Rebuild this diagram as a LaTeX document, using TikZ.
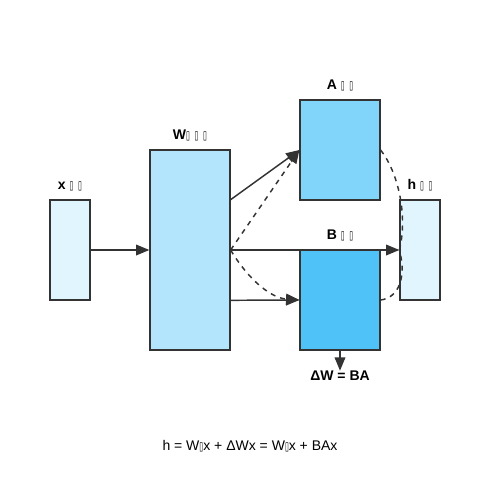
\documentclass[tikz,border=0pt]{standalone}
\usepackage{fontspec}
\setmainfont{Liberation Sans}
\newfontfamily\tofufont{DejaVu Sans}
\usepackage{tikz}
\usetikzlibrary{arrows.meta,positioning,calc}
\usepackage{xcolor}
\definecolor{linegray}{HTML}{333333}
\definecolor{incol}{HTML}{E1F5FE}
\definecolor{wcol}{HTML}{B3E5FC}
\definecolor{acol}{HTML}{81D4FA}
\definecolor{bcol}{HTML}{4FC3F7}
\newcommand{\tf}{\scalebox{0.5}[0.85]{\tofufont\char"25AF}}

\begin{document}
\begin{tikzpicture}[x=0.75pt, y=-0.75pt,
  box/.style={draw=linegray, line width=0.9pt, inner sep=0pt},
  lbl/.style={font=\fontsize{10.5}{12}\selectfont\bfseries, inner sep=0pt, anchor=base},
  arr/.style={draw=linegray, line width=1.1pt, -{Triangle[length=10pt,width=8pt]}},
  dsh/.style={draw=linegray, line width=1.1pt, dash pattern=on 3.75pt off 3.75pt}]
\useasboundingbox (0,0) rectangle (500,500);

% boxes
\node[box, fill=incol, minimum width=30pt, minimum height=75pt] (xin) at (70,250) {};
\node[box, fill=wcol, minimum width=60pt, minimum height=150pt] (W) at (190,250) {};
\node[box, fill=acol, minimum width=60pt, minimum height=75pt] (A) at (340,150) {};
\node[box, fill=bcol, minimum width=60pt, minimum height=75pt] (B) at (340,300) {};
\node[box, fill=incol, minimum width=30pt, minimum height=75pt] (hout) at (420,250) {};

% labels
\node[above=7.5pt of xin, lbl] (xin_lbl) {x \tf\hspace{3.5pt}\tf};
\node[above=7.5pt of W, lbl] (W_lbl) {W\tf\hspace{3.5pt}\tf\hspace{3.5pt}\tf};
\node[above=7.5pt of A, lbl] (A_lbl) {A \tf\hspace{3.5pt}\tf};
\node[above=7.5pt of B, lbl] (B_lbl) {B \tf\hspace{3.5pt}\tf};
\node[above=7.5pt of hout, lbl] (h_lbl) {h \tf\hspace{3.5pt}\tf};
\node[below=22.5pt of B, lbl] (dW) {ΔW = BA};

% solid paths
\draw[arr] (xin.east) -- (W.west);
\draw[arr] ($(W.north east)!0.25!(W.south east)$) -- (A.west);
\draw[arr] ($(W.north east)!0.75!(W.south east)$) -- (B.west);
\draw[arr] (W.east) -- (hout.west);
\draw[arr] (B.south) -- (dW.north);

% low-rank branch
\draw[dsh, -{Triangle[length=10pt,width=8pt]}] (W.east) -- (A.west);
\draw[dsh, -{Triangle[length=10pt,width=8pt]}] (W.east) .. controls (250,282) and (272,298) .. (B.west);
\draw[dsh] (A.east) .. controls (398,172) and (408,215) .. (hout.west);
\draw[dsh] (B.east) .. controls (398,298) and (407,278) .. (hout.west);

\node[font=\fontsize{10.5}{12}\selectfont, anchor=base] (eq) at (250,450) {h = W\tf x + ΔWx = W\tf x + BAx};
\end{tikzpicture}
\end{document}
